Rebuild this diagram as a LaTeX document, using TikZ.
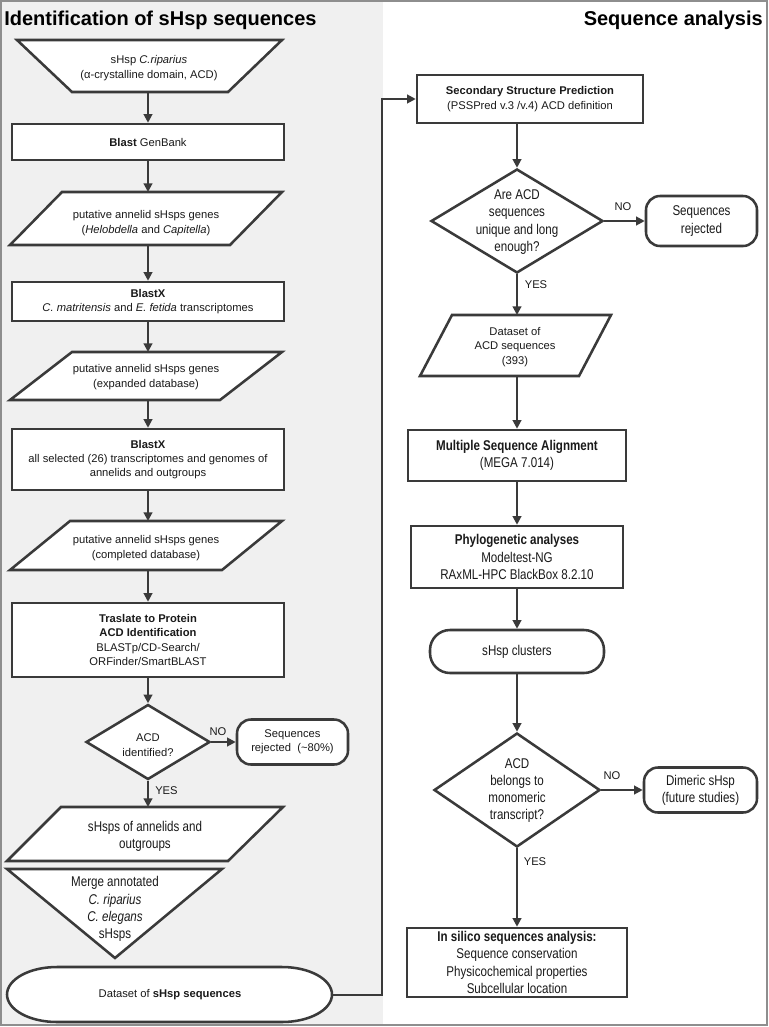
\documentclass[tikz,border=0pt]{standalone}
\usepackage{fontspec}
\setmainfont{Liberation Sans}
\newfontfamily\narrowfont[FakeStretch=0.82]{Liberation Sans}
\usetikzlibrary{arrows.meta,shapes.geometric}
\definecolor{dk}{HTML}{3A3A3A}
\definecolor{panel}{HTML}{F0F0F0}
\definecolor{frame}{HTML}{8E8E8E}
\definecolor{txt}{HTML}{1A1A1A}
\newcommand\pxl[1]{#1*0.75pt}
\begin{document}
\begin{tikzpicture}[x=0.75pt,y=-0.75pt,
 shp/.style={draw=dk,line width=1.9pt,fill=white},
 box/.style={shp,rectangle,inner sep=0pt},
 rbox/.style={box,rounded corners=10.5pt},
 dia/.style={shp,diamond,inner sep=0pt},
 arr/.style={draw=dk,line width=1.5pt,-{Triangle[length=6.5pt,width=6.5pt]}},
 sm/.style={text=txt,font=\fontsize{8.4}{10.8}\selectfont,align=center,inner sep=0pt},
 nw/.style={text=txt,font=\narrowfont\fontsize{10.6}{12.9}\selectfont,align=center,inner sep=0pt},
 ttl/.style={text=black,font=\bfseries\fontsize{15}{17}\selectfont,inner sep=0pt},
]
\useasboundingbox (0,0) rectangle (768,1027);
\fill[panel] (1,1) rectangle (383,1025);
\draw[frame,line width=1.1pt] (1,1) rectangle (767,1025);

\node[ttl,anchor=base west] (title1) at (4,26) {Identification of sHsp sequences};
\node[ttl,anchor=base east] (title2) at (763,26) {Sequence analysis};

% ---------- left column ----------
\draw[shp] (17,40) -- (282,40) -- (228,92) -- (72,92) -- cycle;
\node[sm] (n1) at (149,68) {sHsp \textit{C.riparius}\\(α-crystalline domain, ACD)};
\coordinate (n1b) at (148,92);

\node[box,sm,minimum width=\pxl{272},minimum height=\pxl{36}] (n2) at (148,142) {\textbf{Blast} GenBank};

\draw[shp] (62,192) -- (282,192) -- (230,245) -- (10,245) -- cycle;
\node[sm] (n3) at (146,223) {putative annelid sHsps genes\\(\textit{Helobdella} and \textit{Capitella})};
\coordinate (n3t) at (148,192); \coordinate (n3b) at (148,245);

\node[box,sm,minimum width=\pxl{272},minimum height=\pxl{39}] (n4) at (148,301.5) {\textbf{BlastX}\\\textit{C. matritensis} and \textit{E. fetida} transcriptomes};

\draw[shp] (72,352) -- (282,352) -- (220,400) -- (10,400) -- cycle;
\node[sm] (n5) at (146,377) {putative annelid sHsps genes\\(expanded database)};
\coordinate (n5t) at (148,352); \coordinate (n5b) at (148,400);

\node[box,sm,minimum width=\pxl{272},minimum height=\pxl{61}] (n6) at (148,459.5) {\textbf{BlastX}\\all selected (26) transcriptomes and genomes of\\annelids and outgroups};

\draw[shp] (70,521) -- (282,521) -- (222,570) -- (10,570) -- cycle;
\node[sm] (n7) at (146,548) {putative annelid sHsps genes\\(completed database)};
\coordinate (n7t) at (148,521); \coordinate (n7b) at (148,570);

\node[box,sm,minimum width=\pxl{272},minimum height=\pxl{74}] (n8) at (148,640) {\textbf{Traslate to Protein}\\\textbf{ACD Identification}\\BLASTp/CD-Search/\\ORFinder/SmartBLAST};

\node[dia,minimum width=\pxl{124},minimum height=\pxl{75}] (d1) at (148,742) {};
\node[sm] (d1t) at (148,745) {ACD\\identified?};

\node[rbox,sm,minimum width=\pxl{111},minimum height=\pxl{45}] (s1) at (292.5,742) {Sequences\\rejected\ \ (\textasciitilde80\%)};
\node[sm] (no1) at (218,732) {NO};
\node[sm,anchor=west] (yes1) at (155,791) {YES};

\draw[shp] (61,807) -- (283,807) -- (228,861) -- (7,861) -- cycle;
\node[nw] (n11) at (145,836) {sHsps of annelids and\\outgroups};
\coordinate (n11t) at (148,807);

\draw[shp] (7,869) -- (222,869) -- (115,958) -- cycle;
\node[nw] (n12) at (115,909) {Merge annotated\\\textit{C. riparius}\\\textit{C. elegans}\\sHsps};

\draw[shp] (57,967) -- (282,967) arc[start angle=-90,end angle=90,x radius=50,y radius=27.5] -- (57,1022) arc[start angle=90,end angle=270,x radius=50,y radius=27.5] -- cycle;
\node[sm] (n13) at (170,995) {Dataset of \textbf{sHsp sequences}};
\coordinate (n13r) at (332,994.5);
\coordinate (bend) at (382,994.5);

% ---------- right column ----------
\node[box,sm,minimum width=\pxl{226},minimum height=\pxl{48}] (r1) at (530,99) {\textbf{Secondary Structure Prediction}\\(PSSPred v.3 /v.4) ACD definition};

\node[dia,minimum width=\pxl{172},minimum height=\pxl{104}] (r2) at (517,221) {};
\node[nw] (r2t) at (517,222) {Are ACD\\sequences\\unique and long\\enough?};

\node[rbox,nw,minimum width=\pxl{111},minimum height=\pxl{50}] (r3) at (701.5,221) {Sequences\\rejected};
\node[sm] (no2) at (623,207) {NO};
\node[sm] (yes2) at (536,285) {YES};

\draw[shp] (452,315) -- (611,315) -- (579,376) -- (420,376) -- cycle;
\node[sm] (r4) at (515,347) {Dataset of\\ACD sequences\\(393)};
\coordinate (r4t) at (517,315); \coordinate (r4b) at (517,376);

\node[box,nw,minimum width=\pxl{218},minimum height=\pxl{51}] (r5) at (517,455.5) {\textbf{Multiple Sequence Alignment}\\(MEGA 7.014)};

\node[box,nw,minimum width=\pxl{212},minimum height=\pxl{62}] (r6) at (517,557) {\textbf{Phylogenetic analyses}\\Modeltest-NG\\RAxML-HPC BlackBox 8.2.10};

\node[box,nw,rounded corners=15pt,minimum width=\pxl{174},minimum height=\pxl{43}] (r7) at (517,651.5) {sHsp clusters};

\node[dia,minimum width=\pxl{166},minimum height=\pxl{114}] (r8) at (517,790) {};
\node[nw] (r8t) at (517,790.5) {ACD\\belongs to\\monomeric\\transcript?};

\node[rbox,nw,minimum width=\pxl{113},minimum height=\pxl{45}] (r9) at (700.5,790) {Dimeric sHsp\\(future studies)};
\node[sm] (no3) at (612,776) {NO};
\node[sm] (yes3) at (535,862) {YES};

\node[box,nw,font=\narrowfont\fontsize{10.6}{13.1}\selectfont,minimum width=\pxl{220},minimum height=\pxl{69}] (r10) at (517,962.5) {\textbf{In silico sequences analysis:}\\Sequence conservation\\Physicochemical properties\\Subcellular location};

% ---------- connectors ----------
\draw[arr] (n1b) -- (n2.north);
\draw[arr] (n2.south) -- (n3t);
\draw[arr] (n3b) -- (n4.north);
\draw[arr] (n4.south) -- (n5t);
\draw[arr] (n5b) -- (n6.north);
\draw[arr] (n6.south) -- (n7t);
\draw[arr] (n7b) -- (n8.north);
\draw[arr] (n8.south) -- (d1.north);
\draw[arr] (d1.east) -- (s1.west);
\draw[arr] (d1.south) -- (n11t);
\draw[arr] (n13r) -- (bend) |- (r1.west);

\draw[arr] (r2.north |- r1.south) -- (r2.north);
\draw[arr] (r2.east) -- (r3.west);
\draw[arr] (r2.south) -- (r4t);
\draw[arr] (r4b) -- (r5.north);
\draw[arr] (r5.south) -- (r6.north);
\draw[arr] (r6.south) -- (r7.north);
\draw[arr] (r7.south) -- (r8.north);
\draw[arr] (r8.east) -- (r9.west);
\draw[arr] (r8.south) -- (r10.north);
\end{tikzpicture}
\end{document}
